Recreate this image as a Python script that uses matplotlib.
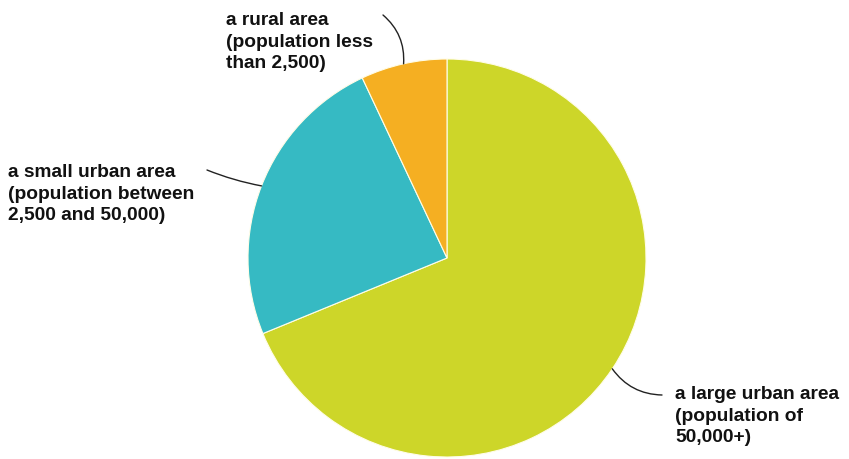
import numpy as np
import matplotlib.pyplot as plt

labels = ['a large urban area\n(population of\n50,000+)',
          'a small urban area\n(population between\n2,500 and 50,000)',
          'a rural area\n(population less\nthan 2,500)']
shares = [68.8, 24.2, 7.0]
colors = ['#CDD629', '#36BAC3', '#F5AF22']

W, H = 849, 459
fig = plt.figure(figsize=(W / 100, H / 100), dpi=100)
ax = fig.add_axes([0, 0, 1, 1])

cx, cy, r = 447, H - 258, 199
wedges, _ = ax.pie(shares, colors=colors, startangle=90, counterclock=False,
                   center=(cx, cy), radius=r,
                   wedgeprops=dict(edgecolor='#FFFDE8', linewidth=0.8))
ax.set_xlim(0, W)
ax.set_ylim(0, H)
ax.set_aspect('equal')
ax.axis('off')

# label text anchors (top-left, image px) and leader-line ends
text_pos = [(675, 386), (8, 164), (226, 12)]
line_end = [(662, 395), (207, 170), (383, 15)]
rads = [-0.25, 0.05, -0.25]

for w, lab, (tx, ty), (lx, ly), rad in zip(wedges, labels, text_pos, line_end, rads):
    mid = np.deg2rad((w.theta1 + w.theta2) / 2)
    px, py = cx + r * np.cos(mid), cy + r * np.sin(mid)
    ax.annotate('', xy=(px, py), xytext=(lx, H - ly),
                arrowprops=dict(arrowstyle='-', color='#222222', lw=1.0,
                                shrinkA=0, shrinkB=0,
                                connectionstyle=f'arc3,rad={rad}'))
    ax.text(tx, H - ty, lab, ha='left', va='top', fontsize=13.8,
            fontweight='bold', family='Liberation Sans', color='#111111',
            linespacing=1.35)

fig.savefig('out.png', dpi=100)
